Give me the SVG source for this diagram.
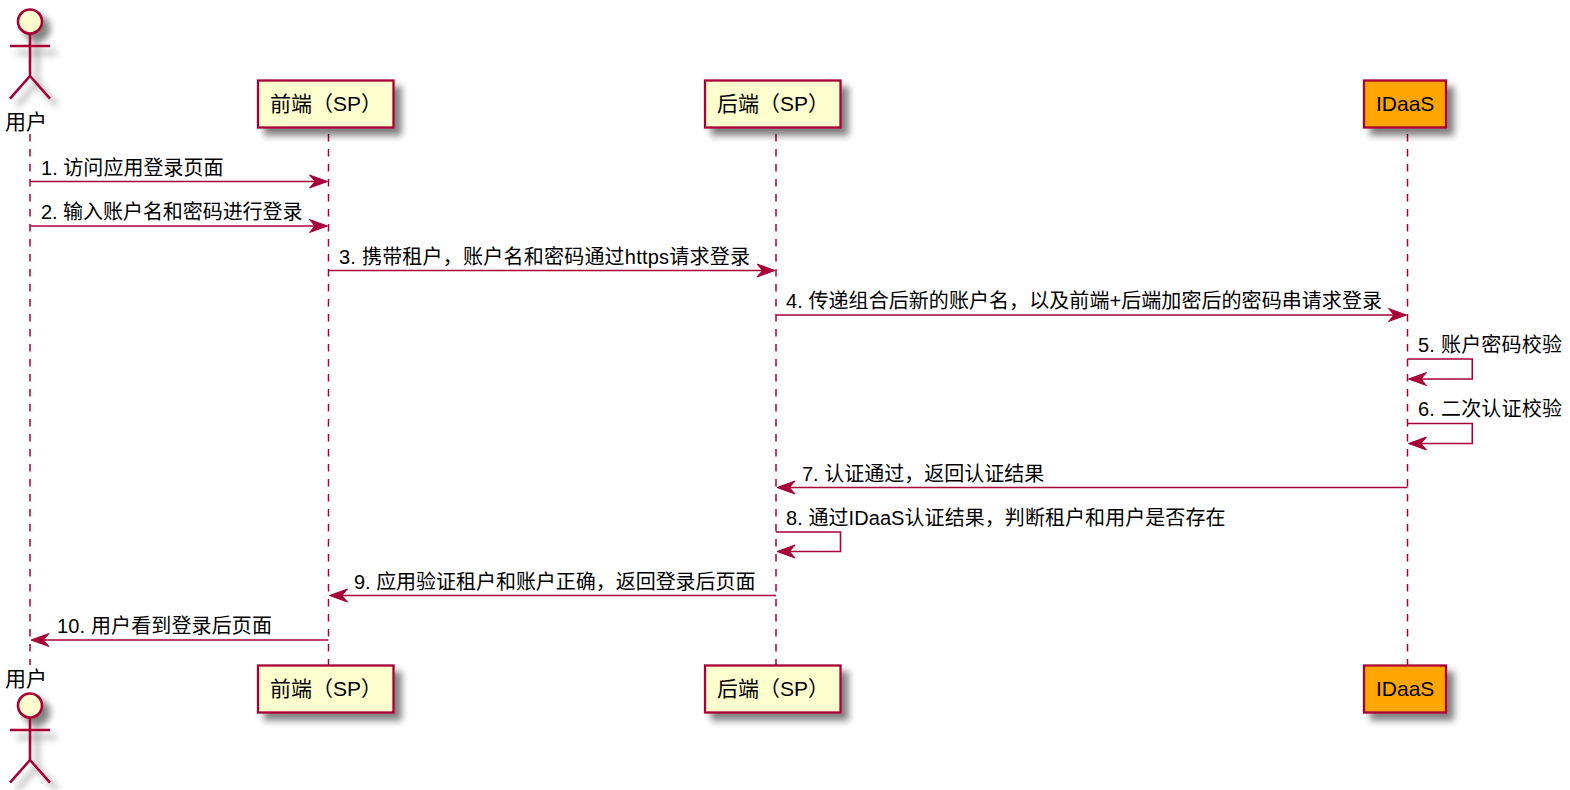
<svg xmlns="http://www.w3.org/2000/svg" width="1570" height="790" viewBox="0 0 1570 790">
<style>
text{font-family:"Liberation Sans","Noto Sans CJK SC",sans-serif;font-size:20px;fill:#000}
text.big{font-size:21px}
.life{stroke:#A80036;stroke-width:1.5;stroke-dasharray:7.500 7.500;fill:none}
.msg{stroke:#A80036;stroke-width:1.600;fill:none}
.box{fill:#FEFECE;stroke:#A80036;stroke-width:2.300;filter:url(#sh)}
.idaas{fill:#FFA500;stroke:#A80036;stroke-width:2.300;filter:url(#sh)}
.act{fill:none;stroke:#A80036;stroke-width:2.600}
.head{fill:#FEFECE;stroke:#A80036;stroke-width:2.600}
.tip{fill:#A80036;stroke:#A80036;stroke-width:1}
</style>
<defs>
<filter id="sh" x="-30%" y="-30%" width="170%" height="170%">
<feGaussianBlur in="SourceAlpha" stdDeviation="3.500"/>
<feOffset dx="7" dy="7"/>
<feComponentTransfer><feFuncA type="linear" slope="0.5"/></feComponentTransfer>
<feMerge><feMergeNode/><feMergeNode in="SourceGraphic"/></feMerge>
</filter>
<g id="actor" filter="url(#sh)">
<circle class="head" cx="30" cy="21.500" r="12"/>
<path class="act" d="M30 34V76M10 46H50M30 76L10 98.700M30 76L50 98.700"/>
</g>
<path id="tipR" class="tip" d="M0 0L-18 -6.500L-12.500 0L-18 6.500Z"/>
<path id="tipL" class="tip" d="M0 0L18 -6.500L12.500 0L18 6.500Z"/>
</defs>
<g id="lifelines">
<path class="life" d="M30 134V665"/>
<path class="life" d="M328.500 134V665"/>
<path class="life" d="M776 134V665"/>
<path class="life" d="M1407.500 134V665"/>
</g>
<g id="connectors">
<path class="msg" d="M30 181.500H326"/><use href="#tipR" x="327.500" y="181.500"/>
<path class="msg" d="M30 226H326"/><use href="#tipR" x="327.500" y="226"/>
<path class="msg" d="M328.500 270.500H773"/><use href="#tipR" x="775" y="270.500"/>
<path class="msg" d="M776 315H1405"/><use href="#tipR" x="1406.500" y="315"/>
<path class="msg" d="M1407.500 359H1472.300V379H1410"/><use href="#tipL" x="1408.500" y="379"/>
<path class="msg" d="M1407.500 423.500H1472.300V443.500H1410"/><use href="#tipL" x="1408.500" y="443.500"/>
<path class="msg" d="M1407.500 487.500H779"/><use href="#tipL" x="777" y="487.500"/>
<path class="msg" d="M776 532H840.500V551.500H779"/><use href="#tipL" x="777" y="551.500"/>
<path class="msg" d="M776 595.500H331"/><use href="#tipL" x="329.500" y="595.500"/>
<path class="msg" d="M328.500 640H33"/><use href="#tipL" x="31" y="640"/>
</g>
<g id="labels">
<text x="41" y="175" textLength="182.500">1. 访问应用登录页面</text>
<text x="41" y="219" textLength="261.500">2. 输入账户名和密码进行登录</text>
<text x="339" y="264" textLength="411">3. 携带租户，账户名和密码通过https请求登录</text>
<text x="786" y="308" textLength="596">4. 传递组合后新的账户名，以及前端+后端加密后的密码串请求登录</text>
<text x="1418" y="352" textLength="144">5. 账户密码校验</text>
<text x="1418" y="416" textLength="144">6. 二次认证校验</text>
<text x="802" y="481">7. 认证通过，返回认证结果</text>
<text x="786" y="524.500" textLength="439.500">8. 通过IDaaS认证结果，判断租户和用户是否存在</text>
<text x="354" y="589" textLength="401.500">9. 应用验证租户和账户正确，返回登录后页面</text>
<text x="57" y="633" textLength="215">10. 用户看到登录后页面</text>
</g>
<g id="actor-top">
<use href="#actor"/>
<text class="big" x="5" y="129">用户</text>
</g>
<g id="actor-bottom">
<use href="#actor" y="684"/>
<text class="big" x="5" y="685.500">用户</text>
</g>
<g id="frontend-top">
<rect class="box" x="258" y="80.500" width="135.500" height="47"/>
<text class="big" x="270" y="111">前端（SP）</text>
</g>
<g id="backend-top">
<rect class="box" x="705" y="80.500" width="135.500" height="47"/>
<text class="big" x="717" y="111">后端（SP）</text>
</g>
<g id="idaas-top">
<rect class="idaas" x="1364" y="80.500" width="82" height="47"/>
<text class="big" x="1376" y="111">IDaaS</text>
</g>
<g id="frontend-bottom">
<rect class="box" x="258" y="665.500" width="135.500" height="47"/>
<text class="big" x="270" y="696">前端（SP）</text>
</g>
<g id="backend-bottom">
<rect class="box" x="705" y="665.500" width="135.500" height="47"/>
<text class="big" x="717" y="696">后端（SP）</text>
</g>
<g id="idaas-bottom">
<rect class="idaas" x="1364" y="665.500" width="82" height="47"/>
<text class="big" x="1376" y="696">IDaaS</text>
</g>
</svg>
